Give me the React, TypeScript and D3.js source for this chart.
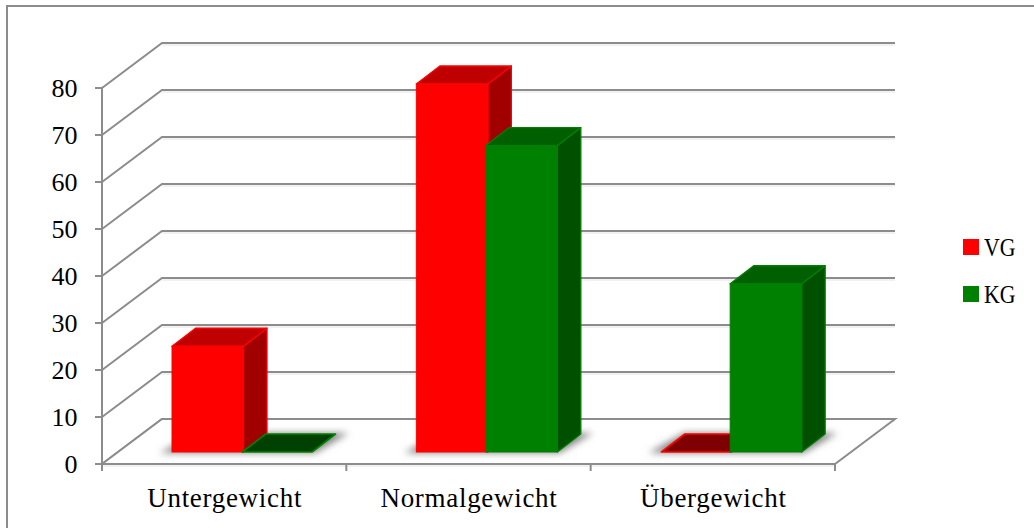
import React from "react";
import * as d3 from "d3";

const categories = ["Untergewicht", "Normalgewicht", "Übergewicht"];
const seriesNames = ["VG", "KG"];
const vgValues = [22.5, 78.3, 0];
const kgValues = [0, 65.2, 35.8];
const yTicks = [0, 10, 20, 30, 40, 50, 60, 70, 80];

const palette = {
  VG: { front: "#ff0000", top: "#bf0000", side: "#a00000", flat: "#7f0000", edge: "#ff0000" },
  KG: { front: "#008000", top: "#005f00", side: "#005000", flat: "#004000", edge: "#008000" },
};

const FONT = "'Liberation Serif', serif";
const GRID = "#8c8c8c";

// Projection of the chart box
const floorLeft = 102;
const floorRight = 835;
const depthX = 60;
const depthY = 45;
const y = d3.scaleLinear().domain([0, 80]).range([464, 88]);
const x = d3.scaleBand<string>().domain(categories).range([floorLeft, floorRight]);

// Bars stand partway into the floor
const barBase = 452;
const barDepthX = 23.5;
const barDepthY = 18;
const barWidth = 71.5;
const barStep = 69.5;
const clusterInset = 70;

const pts = (p: number[][]) => p.map((q) => q.join(",")).join(" ");

function Bar({ left, value, c }: { left: number; value: number; c: typeof palette.VG }) {
  const h = y(0) - y(value);
  const top = barBase - h;
  const right = left + barWidth;
  const dx = barDepthX;
  const dy = barDepthY;
  const edge = { stroke: c.edge, strokeWidth: 1.3, strokeLinejoin: "round" as const };
  if (value === 0) {
    const l = left + 0.75;
    return (
      <polygon
        points={pts([[l, top], [right - 1, top], [right - 1 + dx, top - dy], [l + dx, top - dy]])}
        fill={c.flat}
        {...edge}
        strokeWidth={1.7}
      />
    );
  }
  return (
    <g>
      <polygon points={pts([[right, top], [right + dx, top - dy], [right + dx, barBase - dy], [right, barBase]])} fill={c.side} {...edge} />
      <polygon points={pts([[left, top], [right, top], [right + dx, top - dy], [left + dx, top - dy]])} fill={c.top} {...edge} />
      <rect x={left} y={top} width={barWidth} height={h} fill={c.front} stroke={c.edge} strokeWidth={1} />
    </g>
  );
}

export default function App() {
  return (
    <svg
      width={1034}
      height={528}
      style={{ position: "absolute", left: 0, top: 0, background: "#fff" }}
      fontFamily={FONT}
    >
      <defs>
        <filter id="floorShadow" x="-20%" y="-80%" width="140%" height="260%">
          <feGaussianBlur stdDeviation="3.5" />
        </filter>
      </defs>

      {/* Frame: only the top and left edges fall on the canvas */}
      <line x1={6} x2={1034} y1={6} y2={6} stroke={GRID} strokeWidth={2} />
      <line x1={7} x2={7} y1={5} y2={528} stroke={GRID} strokeWidth={2} />

      {/* Back wall gridlines with their diagonal returns on the side wall */}
      {yTicks.map((t) => (
        <g key={t}>
          <polyline
            points={pts([[floorLeft, y(t)], [floorLeft + depthX, y(t) - depthY], [floorRight + depthX, y(t) - depthY]])}
            fill="none"
            stroke={GRID}
            strokeWidth={2}
          />
          <line x1={floorLeft + depthX} x2={floorRight + depthX} y1={y(t) - depthY + 2} y2={y(t) - depthY + 2} stroke="#e4e4e4" strokeWidth={1} />
        </g>
      ))}

      {/* Floor */}
      <polygon
        points={pts([[floorLeft, y(0)], [floorLeft + depthX, y(0) - depthY], [floorRight + depthX, y(0) - depthY], [floorRight, y(0)]])}
        fill="#fff"
        stroke={GRID}
        strokeWidth={2}
      />
      <line x1={floorLeft} x2={floorRight} y1={y(0) + 2} y2={y(0) + 2} stroke="#e4e4e4" strokeWidth={1} />

      {/* Axes and ticks */}
      <line x1={floorLeft} x2={floorLeft} y1={y(80)} y2={y(0) + 7} stroke={GRID} strokeWidth={2} />
      {yTicks.map((t) => (
        <line key={t} x1={floorLeft - 7} x2={floorLeft} y1={y(t)} y2={y(t)} stroke={GRID} strokeWidth={2} />
      ))}
      {categories.map((cat) => (
        <line key={cat} x1={(x(cat) as number) + x.bandwidth()} x2={(x(cat) as number) + x.bandwidth()} y1={y(0)} y2={y(0) + 7} stroke={GRID} strokeWidth={2} />
      ))}
      {yTicks.map((t) => (
        <text key={t} x={77.5} y={y(t) + 9} textAnchor="end" fontSize={26} fill="#000">
          {t}
        </text>
      ))}
      {categories.map((cat) => (
        <text key={cat} x={(x(cat) as number) + x.bandwidth() / 2 + 0.5} y={507} textAnchor="middle" fontSize={27} letterSpacing={0.7} fill="#000">
          {cat}
        </text>
      ))}

      {/* Soft contact shadows below each cluster */}
      {categories.map((cat) => {
        const l = (x(cat) as number) + clusterInset;
        const r = l + barStep + barWidth;
        return (
          <polygon
            key={cat}
            points={pts([[l - 12, barBase + 1], [r + 2, barBase + 1], [r + barDepthX + 12, barBase - barDepthY - 1], [l + barDepthX, barBase - barDepthY - 1]])}
            fill="#858585"
            filter="url(#floorShadow)"
          />
        );
      })}

      {/* Bars */}
      {categories.map((cat, i) => {
        const l = (x(cat) as number) + clusterInset;
        return (
          <g key={cat}>
            <Bar left={l} value={vgValues[i]} c={palette.VG} />
            <Bar left={l + barStep} value={kgValues[i]} c={palette.KG} />
          </g>
        );
      })}

      {/* Legend */}
      {seriesNames.map((name, i) => (
        <g key={name}>
          <rect x={963} y={239 + i * 47} width={16} height={16} fill={palette[name as "VG" | "KG"].front} />
          <text x={984} y={256 + i * 47} fontSize={26} textLength={31.5} lengthAdjust="spacingAndGlyphs" fill="#000">
            {name}
          </text>
        </g>
      ))}
    </svg>
  );
}
